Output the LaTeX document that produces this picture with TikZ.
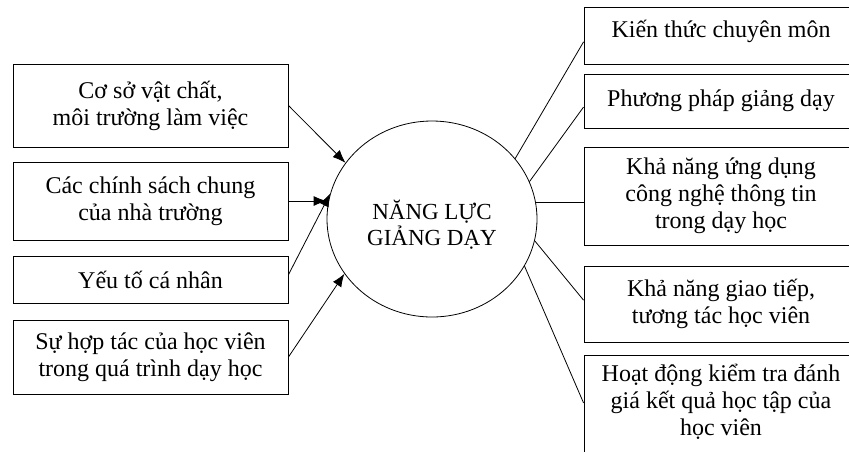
\documentclass[tikz,border=0pt]{standalone}
\usepackage{fontspec}
\setmainfont{Liberation Serif}
\usetikzlibrary{arrows.meta,shapes.geometric,calc}
\begin{document}
\begin{tikzpicture}[x=1pt,y=-1pt,
  lbox/.style={draw,line width=0.9pt,minimum width=275pt,inner sep=0pt,align=center,font=\fontsize{24}{27}\selectfont},
  rbox/.style={draw,line width=0.9pt,minimum width=274pt,inner sep=0pt,align=center,font=\fontsize{24}{27}\selectfont},
  txt/.style={align=center,inner sep=0pt,font=\fontsize{24}{27}\selectfont},
  conn/.style={line width=0.8pt},
  arr/.style={line width=0.8pt,-{Latex[length=13pt,width=10pt]}}]
\useasboundingbox (0,0) rectangle (849,451);
\clip (0,0) rectangle (849,451);
\fill[white] (0,0) rectangle (849,451);
% left boxes
\node[lbox,minimum height=83pt] (b1) at (150.5,105.5) {Cơ sở vật chất,\\môi trường làm việc};
\node[lbox,minimum height=78pt] (b2) at (150.5,201) {Các chính sách chung\\của nhà trường};
\node[lbox,minimum height=47pt] (b3) at (150.5,279.5) {Yếu tố cá nhân};
\node[lbox,minimum height=74pt] (b4) at (150.5,357) {Sự hợp tác của học viên\\trong quá trình dạy học};
% centre
\node[draw,ellipse,line width=0.8pt,minimum width=210pt,minimum height=196pt,inner sep=0pt] (e) at (432,219) {};
\node[txt,font=\fontsize{23}{26}\selectfont] (et) at (432,225) {NĂNG LỰC\\GIẢNG DẠY};
% right boxes
\node[rbox,minimum height=57pt] (r1) at (721,35.5) {};
\node[txt] (t1) at (721,31) {Kiến thức chuyên môn};
\node[rbox,minimum height=54pt] (r2) at (721,101) {Phương pháp giảng dạy};
\node[rbox,minimum height=98pt] (r3) at (721,196) {Khả năng ứng dụng\\công nghệ thông tin\\trong dạy học};
\node[rbox,minimum height=76pt] (r4) at (721,304) {Khả năng giao tiếp,\\tương tác học viên};
\node[rbox,minimum height=120pt] (r5) at (721,415) {};
\node[txt] (t5) at (721,402) {Hoạt động kiểm tra đánh\\giá kết quả học tập của\\học viên};
% arrows
\draw[arr] (b1.east) -- (e.147);
\draw[arr] (b2.east) -- (b2.east -| e.west);
\draw[arr] ($(b3.north east)!0.4!(b3.south east)$) -- (e.166);
\draw[arr] (b4.east) -- (e.212);
% lines
\draw[conn] (e.36) -- ($(r1.north west)!0.61!(r1.south west)$);
\draw[conn] (e.21) -- ($(r2.north west)!0.61!(r2.south west)$);
\draw[conn] (e.9.4) -- (e.9.4 -| r3.west);
\draw[conn] (e.-12) -- ($(r4.north west)!0.45!(r4.south west)$);
\draw[conn] (e.-27) -- ($(r5.north west)!0.4!(r5.south west)$);
\end{tikzpicture}
\end{document}
